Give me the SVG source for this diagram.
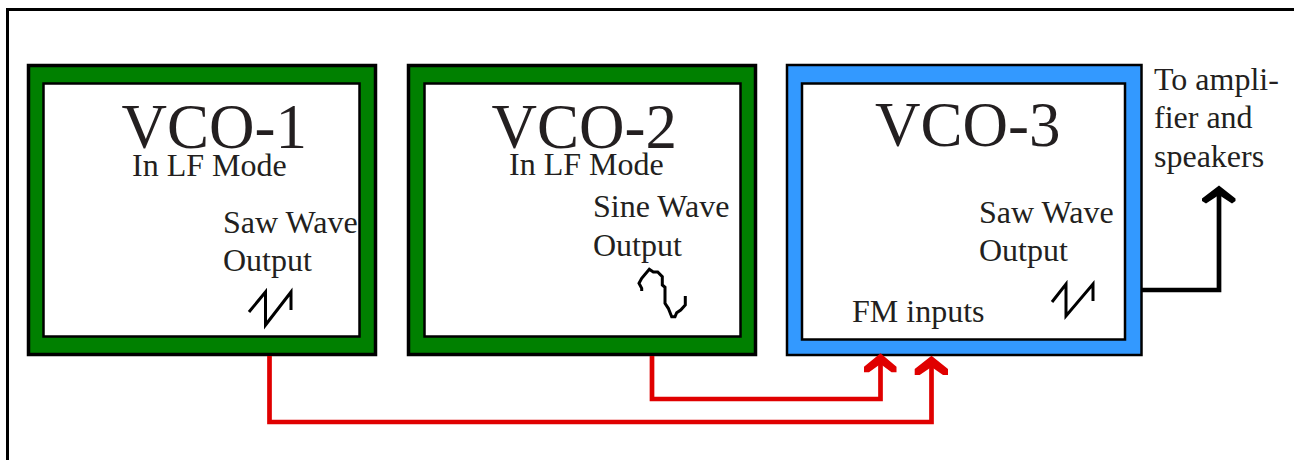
<svg xmlns="http://www.w3.org/2000/svg" width="1294" height="460" viewBox="0 0 1294 460">
<style>
text{font-family:"Liberation Serif","Times New Roman",serif;fill:#231f20}
.t{font-size:63px}
.s{font-size:32px}
.o{stroke:#000;stroke-width:3.5}
.i{fill:#fff;stroke:#000;stroke-width:2.500}
.g{fill:#008000}
.b{fill:#3399ff;stroke:#000;stroke-width:2.500}
.w{fill:none;stroke:#000;stroke-width:3}
.r{fill:none;stroke:#e00000;stroke-width:4.700}
.h{fill:#e00000}
.k{fill:none;stroke:#000;stroke-width:4.700}
</style>
<path d="M7.5 460V9.5H1294" fill="none" stroke="#000" stroke-width="3"/>
<g id="vco1">
<rect class="o g" x="28.500" y="65.500" width="347" height="289"/>
<rect class="i" x="43.500" y="83.500" width="316" height="253"/>
<text class="t" x="121.500" y="148">VCO-1</text>
<text class="s" x="132" y="176">In LF Mode</text>
<text class="s" x="223" y="233">Saw Wave</text>
<text class="s" x="223" y="271">Output</text>
<path class="w" d="M249 312L265.500 292V325L291 292V310"/>
</g>
<g id="vco2">
<rect class="o g" x="408.500" y="65.500" width="347" height="289"/>
<rect class="i" x="424.500" y="83.500" width="316" height="253"/>
<text class="t" x="491.500" y="148">VCO-2</text>
<text class="s" x="509" y="175">In LF Mode</text>
<text class="s" x="593" y="217">Sine Wave</text>
<text class="s" x="593" y="256">Output</text>
<path class="w" d="M641.700 291V288.300L639 283.300L641.700 278.300L649.300 269.300L653.300 272H657.700L662.300 276.700V285L665 287.300V303.300L668.300 308.300L671.700 316.700H675L676.700 312.700L680.700 310L685.300 305V296"/>
</g>
<g id="vco3">
<rect class="b" x="787" y="65" width="354.500" height="290"/>
<rect class="i" x="802" y="83.500" width="323" height="256"/>
<text class="t" x="875" y="146">VCO-3</text>
<text class="s" x="979" y="223">Saw Wave</text>
<text class="s" x="979" y="261">Output</text>
<text class="s" x="852" y="322">FM inputs</text>
<path class="w" d="M1052 302L1066 284V316L1093 284V301"/>
</g>
<text class="s" x="1154" y="90">To ampli-</text>
<text class="s" x="1154" y="128">fier and</text>
<text class="s" x="1154" y="167">speakers</text>
<g id="connectors">
<path class="r" d="M269.500 356V422H931.500V360"/>
<path class="r" d="M652 356V399H880.500V358"/>
<path class="h" d="M864 366.700L880.500 353.300L896.500 366.700V372.300H891.500L880.500 364L869 372.300H864Z"/>
<path class="h" d="M914.700 369L931.500 355.700L948 369V375H943L931.500 367L919.700 375H914.700Z"/>
<path class="k" d="M1142 290H1219V194"/>
<path d="M1202 198.500L1219 185.500L1235.500 198.500V201L1232 203.500L1219 195L1206 203.500L1202 201Z"/>
</g>
</svg>
